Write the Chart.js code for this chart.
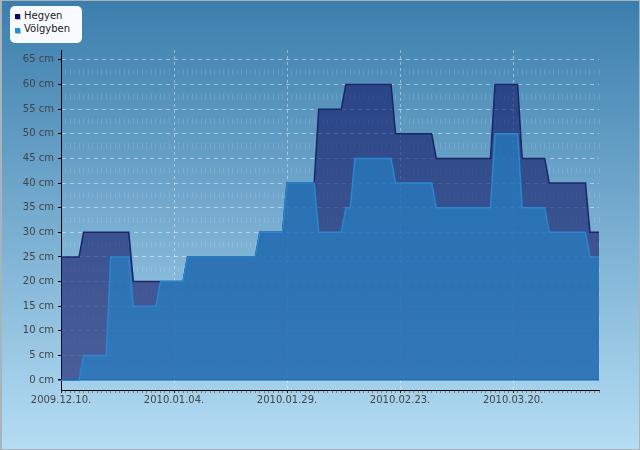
<!DOCTYPE html>
<html>
<head>
<meta charset="utf-8">
<script src="https://cdn.jsdelivr.net/npm/chart.js@4.4.1/dist/chart.umd.min.js"></script>
<style>
html,body{margin:0;padding:0;background:#fff;}
#wrap{position:relative;width:640px;height:450px;overflow:hidden;
  background:linear-gradient(to bottom,#3b7ead 0%,#b5ddf4 100%);}
#wrap:after{content:'';position:absolute;left:0;top:0;right:0;bottom:0;
  border:1px solid #a9b3bc;border-left-width:2px;pointer-events:none;}
canvas{position:absolute;left:0;top:0;}
#legend{position:absolute;left:10px;top:6px;width:72px;height:37px;background:#f7fbff;
  border-radius:5px;font:10px "DejaVu Sans",sans-serif;color:#1a1a1a;}
#legend .sw{position:absolute;left:5px;width:5px;height:5px;box-shadow:1px 1px 0 rgba(0,0,0,0.25);}
#legend .tx{position:absolute;left:14px;line-height:12px;white-space:nowrap;}
</style>
</head>
<body>
<div id="wrap">
  <canvas id="c" width="640" height="450"></canvas>
  <div id="legend">
    <div class="sw" style="top:8px;background:#0c0c5e;"></div><div class="tx" style="top:4px;">Hegyen</div>
    <div class="sw" style="top:22px;background:#1c8fe0;"></div><div class="tx" style="top:17px;">Völgyben</div>
  </div>
</div>
<script>
// Day offsets from 2009.12.10. and snow depth (cm)
const seriesNames = ['Hegyen', 'Völgyben'];
const hegyenDays = [0,4,5,15,16,27,28,43,44,49,50,56,57,62,63,73,74,82,83,95,96,101,102,107,108,116,117,119];
const hegyenCm   = [25,25,30,30,20,20,25,25,30,30,40,40,55,55,60,60,50,50,45,45,60,60,45,45,40,40,30,30];
const volgyDays  = [0,4,5,10,11,15,16,21,22,27,28,43,44,49,50,56,57,62,63,64,65,73,74,82,83,95,96,101,102,107,108,116,117,119];
const volgyCm    = [0,0,5,5,25,25,15,15,20,20,25,25,30,30,40,40,30,30,35,35,45,45,40,40,35,35,50,50,35,35,30,30,25,25];
const xTickDays   = [0,25,50,75,100];
const xTickLabels = ['2009.12.10.','2010.01.04.','2010.01.29.','2010.02.23.','2010.03.20.'];
const yTicks = [0,5,10,15,20,25,30,35,40,45,50,55,60,65];
const dayCount = 120;

const toPts = (xs, ys) => xs.map((x, i) => ({x: x, y: ys[i]}));
const isMajor = v => xTickDays.indexOf(v) >= 0;

new Chart(document.getElementById('c'), {
  type: 'line',
  data: {
    datasets: [
      {
        label: seriesNames[0],
        data: toPts(hegyenDays, hegyenCm),
        borderColor: '#1b2568',
        borderWidth: 1.5,
        backgroundColor: 'rgba(15,20,100,0.6)',
        fill: '+1',
        order: 1,
        pointRadius: 0,
        tension: 0
      },
      {
        label: seriesNames[1],
        data: toPts(volgyDays, volgyCm),
        borderColor: '#2a86cf',
        borderWidth: 1.5,
        backgroundColor: 'rgba(29,103,174,0.84)',
        fill: 'origin',
        order: 0,
        pointRadius: 0,
        tension: 0
      }
    ]
  },
  options: {
    responsive: false,
    animation: false,
    devicePixelRatio: 1,
    layout: {padding: {top: 50, right: 41, left: 0, bottom: 0}},
    plugins: {legend: {display: false}, tooltip: {enabled: false}},
    scales: {
      x: {
        type: 'linear',
        min: 0,
        max: dayCount - 1,
        afterBuildTicks: s => { const t = []; for (let d = 0; d < dayCount; d++) t.push({value: d}); s.ticks = t; },
        afterFit: s => { s.height = 60; },
        ticks: {
          autoSkip: false, maxRotation: 0, minRotation: 0, padding: 1,
          color: '#444', font: {family: 'DejaVu Sans', size: 10},
          callback: v => { const i = xTickDays.indexOf(v); return i >= 0 ? xTickLabels[i] : ''; }
        },
        grid: {
          color: c => (c.tick && isMajor(c.tick.value)) ? 'rgba(255,255,255,0.42)' : 'rgba(255,255,255,0.13)',
          lineWidth: 1,
          tickLength: 3,
          tickColor: c => (c.tick && isMajor(c.tick.value)) ? '#222' : 'rgba(30,30,30,0.45)'
        },
        border: {
          color: '#000', width: 1,
          dash: c => (c.tick && isMajor(c.tick.value)) ? [3,3] : [6,18.64],
          dashOffset: c => (c.tick && isMajor(c.tick.value)) ? 0 : 5.54
        }
      },
      y: {
        type: 'linear',
        min: -2,
        max: 67,
        afterBuildTicks: s => { s.ticks = yTicks.map(v => ({value: v})); },
        afterFit: s => { s.width = 61; },
        ticks: {
          padding: 4, color: '#444', font: {family: 'DejaVu Sans', size: 10},
          callback: v => v + ' cm'
        },
        grid: {
          color: c => (c.tick && c.tick.value === 0) ? '#2a8ad4' : 'rgba(255,255,255,0.45)',
          lineWidth: c => (c.tick && c.tick.value === 0) ? 1.5 : 1,
          tickLength: 3,
          tickColor: '#000'
        },
        border: {
          color: '#000', width: 1,
          dash: c => (c.tick && c.tick.value === 0) ? [] : [4,4]
        }
      }
    }
  }
});
</script>
</body>
</html>
